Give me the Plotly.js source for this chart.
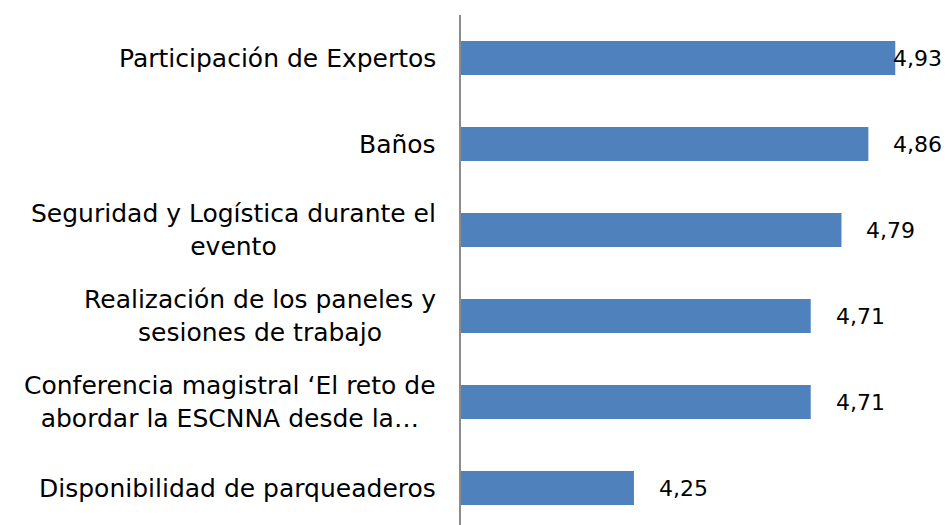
<!DOCTYPE html>
<html>
<head>
<meta charset="utf-8">
<script src="https://cdn.plot.ly/plotly-3.0.1.min.js"></script>
<style>
  html, body { margin: 0; padding: 0; background: #ffffff; }
  #chart { width: 946px; height: 525px; }
</style>
</head>
<body>
<div id="chart"></div>
<script>
/* Valoración de aspectos del evento */
var categories = [
    'Participación de Expertos',
    'Baños',
    'Seguridad y Logística durante el<br>evento',
    'Realización de los paneles y<br>sesiones de trabajo',
    'Conferencia magistral ‘El reto de<br>abordar la ESCNNA desde la…',
    'Disponibilidad de parqueaderos'
];
var values = [4.93, 4.86, 4.79, 4.71, 4.71, 4.25];
var valueLabels = ['4,93', '4,86', '4,79', '4,71', '4,71', '4,25'];

var xMin = 3.8;
var xMax = 5.062;
var fontFamily = 'DejaVu Sans, sans-serif';

var data = [
    {
        type: 'bar',
        orientation: 'h',
        y: categories,
        x: values,
        base: 0,
        marker: { color: '#4F81BD' },
        hoverinfo: 'skip'
    }
];

var annotations = [];

// etiquetas de categoría (centradas, a la izquierda del eje)
for (var i = 0; i < categories.length; i++) {
    annotations.push({
        xref: 'paper', yref: 'y',
        x: 0, y: categories[i],
        xanchor: 'right', yanchor: 'middle',
        xshift: -23,
        align: 'center',
        showarrow: false,
        text: categories[i],
        font: { family: fontFamily, size: 25, color: '#000000' }
    });
}

// etiquetas de valor
for (var i = 0; i < values.length; i++) {
    var fits = values[i] + 0.18 < xMax;
    annotations.push({
        xref: fits ? 'x' : 'paper', yref: 'y',
        x: fits ? values[i] : 1,
        y: categories[i],
        xanchor: fits ? 'left' : 'right',
        yanchor: 'middle',
        xshift: fits ? 23 : -2,
        showarrow: false,
        text: valueLabels[i],
        font: { family: fontFamily, size: 22, color: '#000000' }
    });
}

var layout =
{
    width: 946,
    height: 525,
    margin: { l: 461, r: 0, t: 15, b: 0, pad: 0 },
    paper_bgcolor: '#ffffff',
    plot_bgcolor: '#ffffff',
    showlegend: false,
    bargap: 0.605,
    xaxis: {
        range: [xMin, xMax],
        showgrid: false,
        zeroline: false,
        showline: false,
        showticklabels: false,
        ticks: ''
    },
    yaxis: {
        type: 'category',
        range: [5.43, -0.5],
        showgrid: false,
        zeroline: false,
        showline: true,
        linecolor: '#8c8c8c',
        linewidth: 2,
        showticklabels: false,
        ticks: ''
    },
    annotations: annotations
}

var config =
{
    displayModeBar: false,
    responsive: false
}

Plotly.newPlot('chart', data, layout, config);
</script>
</body>
</html>
